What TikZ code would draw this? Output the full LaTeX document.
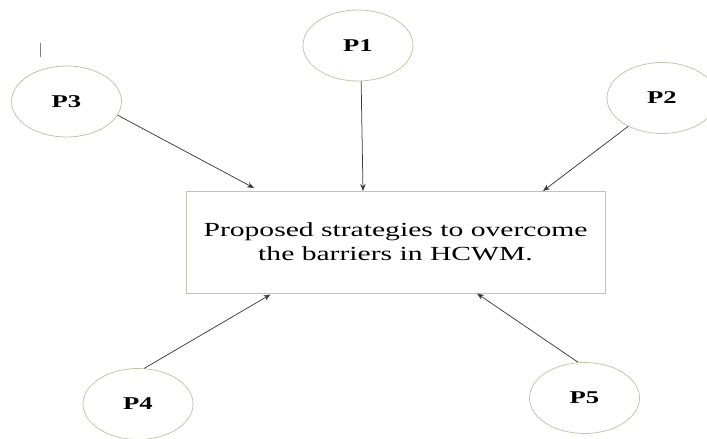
\documentclass[tikz,border=0pt]{standalone}
\usepackage{fontspec}
\setmainfont{Liberation Serif}[FakeStretch=1.48]
\usepackage{tikz}
\usetikzlibrary{arrows.meta, positioning, shapes.geometric}

\definecolor{rimgray}{HTML}{C4C4AE}
\definecolor{arrowgray}{HTML}{3C3C3C}

\begin{document}
\begin{tikzpicture}[x=1pt, y=-1pt,
    pnode/.style={ellipse, draw=rimgray, line width=0.8pt, minimum width=110pt,
        minimum height=71pt, inner sep=0pt, font=\fontsize{18}{20}\selectfont\bfseries},
    feed/.style={draw=arrowgray, line width=0.75pt, -{Stealth[length=7pt,width=5.5pt]}}]
    \useasboundingbox (0,0) rectangle (707,439);

    % Central box
    \node[draw=rimgray, line width=0.8pt, minimum width=419pt, minimum height=102pt,
        align=center, font=\fontsize{20}{24}\selectfont] (box) at (395.5,242)
        {Proposed strategies to overcome\\the barriers in HCWM.};

    % The five P ellipses
    \node[pnode] (P1) at (358,45.5) {P1};
    \node[pnode] (P2) at (662,98) {P2};
    \node[pnode] (P3) at (66.5,101.5) {P3};
    \node[pnode] (P4) at (138,404) {P4};
    \node[pnode] (P5) at (584.5,398) {P5};

    % Arrow tips on the box edges
    \coordinate (in1) at (363,191);
    \coordinate (in2) at (543,191);
    \coordinate (in3) at (254,188);
    \coordinate (in4) at (270.5,294.5);
    \coordinate (in5) at (477,293.5);

    \draw[feed] (P1.-85) -- (in1);
    \draw[feed] (P2.-140) -- (in2);
    \draw[feed] (P3.-15) -- (in3);
    \draw[feed] (P4.80) -- (in4);
    \draw[feed] (P5.100) -- (in5);

    % Stray mark at top left
    \draw[gray, line width=0.8pt] (40,43) -- (40,57);
\end{tikzpicture}
\end{document}
